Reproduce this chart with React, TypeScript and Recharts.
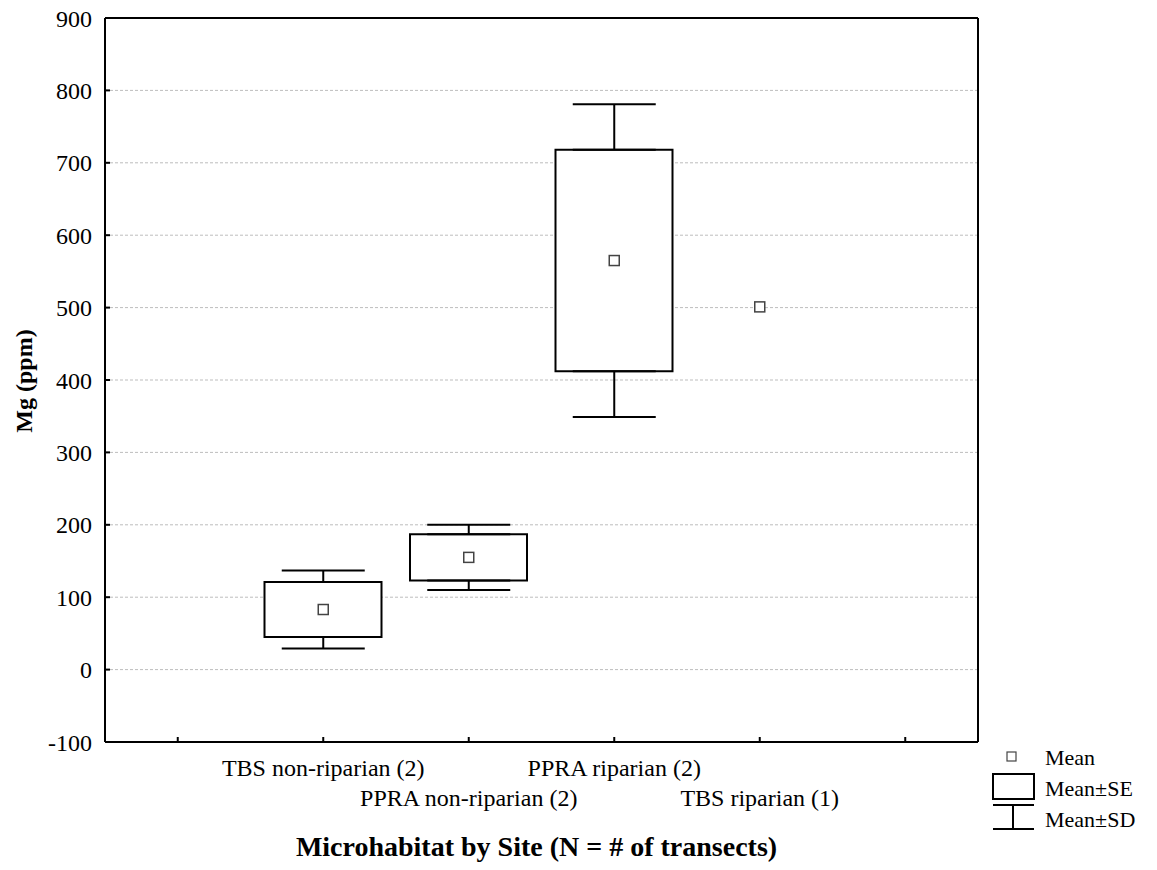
import React from 'react';
import { ComposedChart, Bar, Scatter, ErrorBar, XAxis, YAxis, CartesianGrid, Legend } from 'recharts';

// values (Mg, ppm)
const siteNames = ['TBS non-riparian (2)', 'PPRA non-riparian (2)', 'PPRA riparian (2)', 'TBS riparian (1)'];
const siteSlots = [1, 2, 3, 4];
const meanValues = [83, 155, 565, 501];
const seValues: (number | null)[] = [38, 32, 153, null];
const sdValues: (number | null)[] = [54, 45, 216, null];

const xTicks = [0, 1, 2, 3, 4, 5];
const yTicks = [-100, 0, 100, 200, 300, 400, 500, 600, 700, 800, 900];

const FONT = '"Liberation Serif", "Times New Roman", serif';

// whiskers are split at the box edges so they never cross the box
const data = siteNames.map((name, i) => {
  const m = meanValues[i];
  const se = seValues[i];
  const sd = sdValues[i];
  const hasErr = se != null && sd != null;
  return {
    x: siteSlots[i],
    name,
    mean: m,
    box: se != null ? [m - se, m + se] : null,
    boxTop: hasErr ? m + (se as number) : null,
    boxBottom: hasErr ? m - (se as number) : null,
    upWhisker: hasErr ? [0, (sd as number) - (se as number)] : null,
    downWhisker: hasErr ? [(sd as number) - (se as number), 0] : null,
  };
});

const XTick = (props: any) => {
  const { x, y, payload } = props;
  const idx = siteSlots.indexOf(payload.value);
  if (idx < 0) return null;
  const dy = idx % 2 === 0 ? 34 : 64;
  return (
    <text x={x} y={y + dy} textAnchor="middle" fontFamily={FONT} fontSize={24} fill="#000">
      {siteNames[idx]}
    </text>
  );
};

const MeanMarker = (props: any) => {
  const { cx, cy } = props;
  if (cx == null || cy == null) return null;
  return <rect x={cx - 5} y={cy - 5} width={10} height={10} fill="#fff" stroke="#444" strokeWidth={1.5} />;
};

const Hidden = () => <g />;

const LegendBox = () => (
  <svg width={172} height={92} style={{ display: 'block' }}>
    <rect x={22} y={7} width={9} height={9} fill="#fff" stroke="#444" strokeWidth={1.2} />
    <text x={60} y={20} fontFamily={FONT} fontSize={22} fill="#000">Mean</text>
    <rect x={8} y={29} width={41} height={25} fill="#fff" stroke="#000" strokeWidth={2} />
    <text x={60} y={51} fontFamily={FONT} fontSize={22} fill="#000">Mean±SE</text>
    <line x1={8} y1={60} x2={49} y2={60} stroke="#000" strokeWidth={2} />
    <line x1={28} y1={60} x2={28} y2={84} stroke="#000" strokeWidth={2} />
    <line x1={8} y1={84} x2={49} y2={84} stroke="#000" strokeWidth={2} />
    <text x={60} y={82} fontFamily={FONT} fontSize={22} fill="#000">Mean±SD</text>
  </svg>
);

const YTitle = (props: any) => {
  const vb = props.viewBox || { x: 0, y: 18, width: 105, height: 724 };
  const cx = vb.x + 24;
  const cy = vb.y + vb.height / 2 + 1;
  return (
    <text x={cx} y={cy} transform={`rotate(-90 ${cx} ${cy})`} textAnchor="middle" dominantBaseline="central"
      fontFamily={FONT} fontSize={24} fontWeight="bold" fill="#000">
      Mg (ppm)
    </text>
  );
};

const XTitle = (props: any) => {
  const vb = props.viewBox || { x: 105, y: 742, width: 873, height: 128 };
  return (
    <text x={vb.x + vb.width / 2 - 5} y={vb.y + 114} textAnchor="middle"
      fontFamily={FONT} fontSize={28} fontWeight="bold" fill="#000">
      Microhabitat by Site (N = # of transects)
    </text>
  );
};

const axisLine = { stroke: '#000', strokeWidth: 2 };
const tickLine = { stroke: '#000', strokeWidth: 2 };

export default function App() {
  return (
    <div style={{ position: 'absolute', left: 0, top: 0, width: 1157, height: 870, background: '#fff' }}>
      <ComposedChart width={1157} height={870} data={data} margin={{ top: 17, right: 178, bottom: 0, left: 0 }}>
        <CartesianGrid xAxisId="bottom" yAxisId="left" vertical={false} stroke="#bdbdbd" strokeDasharray="3 2" />
        <XAxis
          xAxisId="bottom"
          type="number"
          dataKey="x"
          domain={[-0.5, 5.5]}
          ticks={xTicks}
          height={128}
          axisLine={axisLine}
          tickLine={tickLine}
          tickSize={-5}
          tickMargin={5}
          tick={<XTick />}
          interval={0}
          label={<XTitle />}
        />
        <XAxis
          xAxisId="top"
          orientation="top"
          type="number"
          dataKey="x"
          domain={[-0.5, 5.5]}
          ticks={xTicks}
          height={1}
          axisLine={axisLine}
          tickLine={tickLine}
          tickSize={-5}
          tick={false}
        />
        <YAxis
          yAxisId="left"
          type="number"
          domain={[-100, 900]}
          ticks={yTicks}
          width={105}
          axisLine={axisLine}
          tickLine={tickLine}
          tickSize={-5}
          tickMargin={18}
          interval={0}
          tick={{ fill: '#000', fontSize: 24, fontFamily: FONT }}
          label={<YTitle />}
        />
        <YAxis
          yAxisId="right"
          orientation="right"
          type="number"
          domain={[-100, 900]}
          ticks={yTicks}
          width={1}
          axisLine={axisLine}
          tickLine={tickLine}
          tickSize={-5}
          tick={false}
        />
        <Bar xAxisId="bottom" yAxisId="left" dataKey="box" barSize={117} fill="#fff" stroke="#000" strokeWidth={2} isAnimationActive={false} />
        <Scatter xAxisId="bottom" yAxisId="left" dataKey="boxTop" shape={<Hidden />} isAnimationActive={false} legendType="none">
          <ErrorBar dataKey="upWhisker" direction="y" width={41.5} stroke="#000" strokeWidth={2} isAnimationActive={false} />
        </Scatter>
        <Scatter xAxisId="bottom" yAxisId="left" dataKey="boxBottom" shape={<Hidden />} isAnimationActive={false} legendType="none">
          <ErrorBar dataKey="downWhisker" direction="y" width={41.5} stroke="#000" strokeWidth={2} isAnimationActive={false} />
        </Scatter>
        <Scatter xAxisId="bottom" yAxisId="left" dataKey="mean" shape={<MeanMarker />} isAnimationActive={false} />
        <Legend
          layout="horizontal"
          verticalAlign="middle"
          align="center"
          content={<LegendBox />}
          wrapperStyle={{ left: 985, top: 745, width: 172, height: 92 }}
        />
      </ComposedChart>
    </div>
  );
}
